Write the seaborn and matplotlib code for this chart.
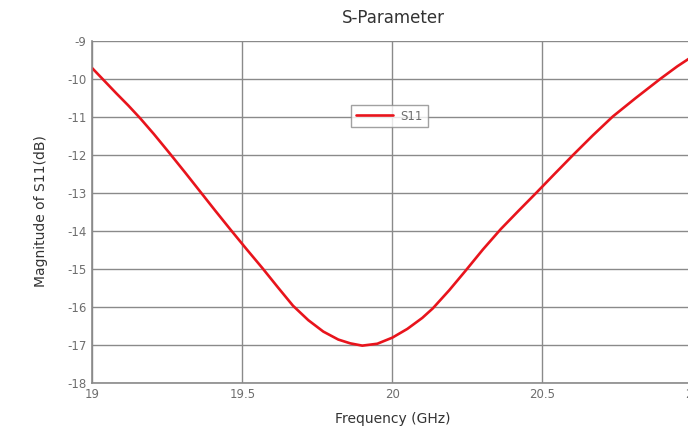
import matplotlib
matplotlib.use("Agg")
import matplotlib.pyplot as plt
import seaborn as sns
import pandas as pd

# Return loss of the port versus frequency
freq_ghz = [19.000, 19.040, 19.080, 19.120, 19.160, 19.205, 19.258, 19.310, 19.360,
            19.410, 19.461, 19.513, 19.566, 19.618, 19.669, 19.720, 19.770, 19.820,
            19.860, 19.900, 19.950, 20.000, 20.050, 20.100, 20.135, 20.190, 20.243,
            20.302, 20.362, 20.421, 20.481, 20.541, 20.603, 20.668, 20.735, 20.812,
            20.895, 20.950, 21.000]
s11_db = [-9.73, -10.06, -10.39, -10.71, -11.05, -11.46, -11.97, -12.48, -12.98,
          -13.48, -13.98, -14.48, -14.98, -15.49, -15.98, -16.36, -16.66, -16.87,
          -16.97, -17.03, -16.98, -16.82, -16.59, -16.30, -16.05, -15.57, -15.07,
          -14.50, -13.96, -13.48, -13.00, -12.51, -12.01, -11.50, -11.00, -10.51,
          -10.00, -9.68, -9.42]

x_ticks = [19, 19.5, 20, 20.5, 21]
x_tick_labels = ["19", "19.5", "20", "20.5", "21"]
y_ticks = list(range(-18, -8))

df = pd.DataFrame({"Frequency": freq_ghz, "S11": s11_db, "trace": "S11"})

sns.set_theme(style="white")
plt.rcParams["font.family"] = ["DejaVu Sans"]
plt.rcParams["axes.unicode_minus"] = False

fig = plt.figure(figsize=(6.88, 4.28), dpi=100)
ax = fig.add_axes([92.3 / 688, 45.5 / 428, 600 / 688, 342 / 428])

sns.lineplot(data=df, x="Frequency", y="S11", hue="trace", palette=["#e8141c"],
             linewidth=1.9, ax=ax, sort=False)
ax.lines[0].set_solid_joinstyle("round")
ax.lines[0].set_solid_capstyle("round")

ax.set_xlim(19, 21)
ax.set_ylim(-18, -9)
ax.set_xticks(x_ticks)
ax.set_xticklabels(x_tick_labels)
ax.set_yticks(y_ticks)
ax.grid(True, color="#8a8a8a", linewidth=1.0)
ax.tick_params(axis="both", length=0, labelsize=8.5, labelcolor="#6e6e6e", pad=4)

for side in ("top", "right"):
    ax.spines[side].set_visible(False)
for side in ("left", "bottom"):
    ax.spines[side].set_color("#8a8a8a")
    ax.spines[side].set_linewidth(1.2)

ax.set_xlabel("Frequency (GHz)", fontsize=10, color="#333333", labelpad=8)
ax.set_ylabel("Magnitude of S11(dB)", fontsize=10, color="#333333", labelpad=14)
fig.text(393 / 688, 1 - 18 / 428, "S-Parameter", ha="center", va="center",
         fontsize=12, color="#333333")

leg = ax.legend(loc="center", bbox_to_anchor=(0.495, 0.779), frameon=True,
                fancybox=False, fontsize=8.5, handlelength=3.2, borderpad=0.4,
                handletextpad=0.6)
leg.get_frame().set_edgecolor("#8a8a8a")
leg.get_frame().set_linewidth(1.0)
for t in leg.get_texts():
    t.set_color("#6e6e6e")

fig.savefig("out.png", dpi=100, facecolor="white")
